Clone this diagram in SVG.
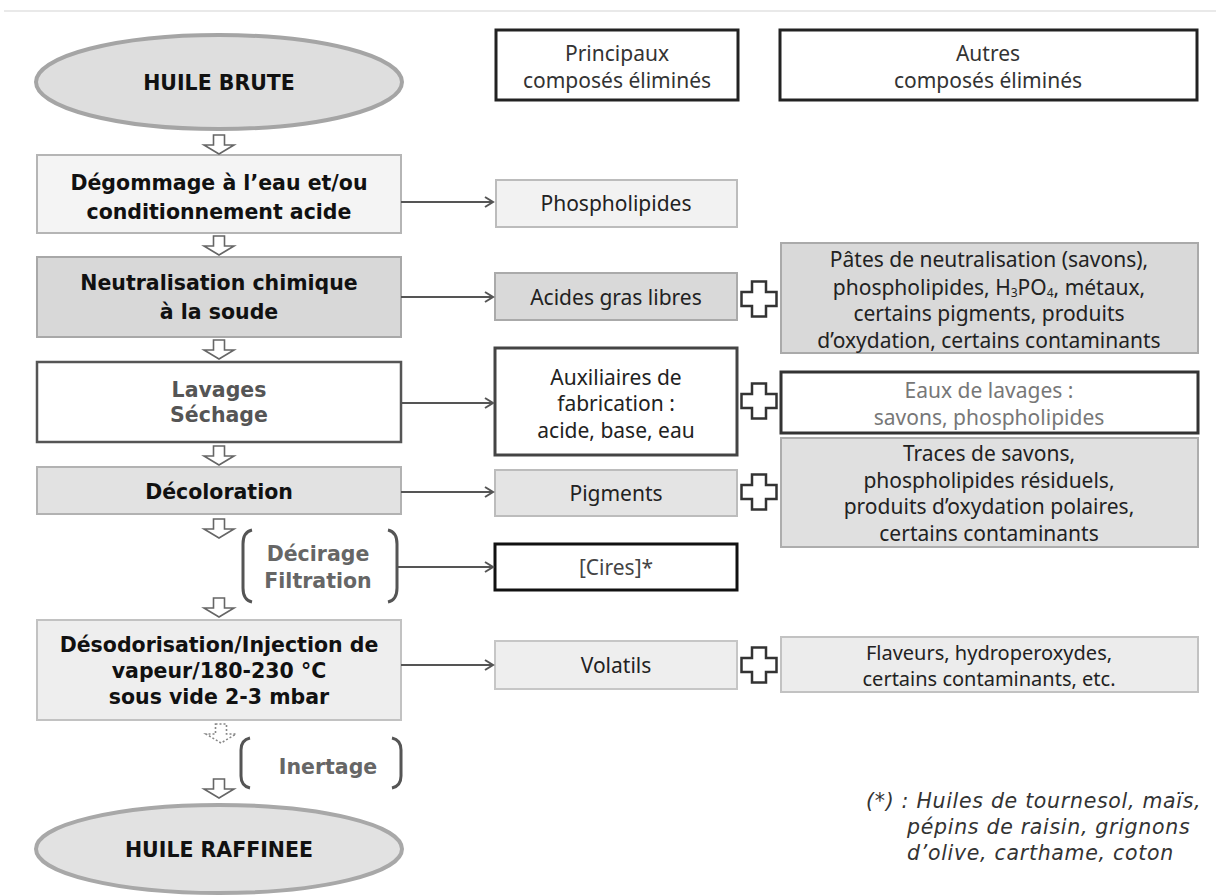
<svg xmlns="http://www.w3.org/2000/svg" width="1216" height="895" viewBox="0 0 1216 895">
<defs>
<style>
text{font-family:"Noto Sans","Open Sans","DejaVu Sans",sans-serif;text-anchor:middle;dominant-baseline:central}
.b{font-family:"DejaVu Sans","Noto Sans",sans-serif;font-weight:bold;font-size:20.5px;fill:#111}
.r{font-size:21px;fill:#222}
.conn{stroke:#555;stroke-width:2;fill:none}
.brk{stroke:#555;stroke-width:3;fill:none}
.ha{fill:#fff;stroke:#666;stroke-width:1.6}
.plus{fill:#fff;stroke:#333;stroke-width:2.5}
.it{font-family:"DejaVu Sans","Noto Sans",sans-serif;font-style:italic;font-size:20.5px;letter-spacing:0.7px;fill:#333;text-anchor:start}
</style>
<marker id="ah" markerWidth="12" markerHeight="12" refX="10" refY="6" orient="auto" markerUnits="userSpaceOnUse">
<path d="M2,1 L10,6 L2,11" fill="none" stroke="#555" stroke-width="2"/>
</marker>
<path id="harrow" d="M-5.5,0 H5.5 V10 H15 L0,19 L-15,10 H-5.5 Z"/>
<path id="pl" d="M-7,-17.5 H7 V-7 H17.5 V7 H7 V17.5 H-7 V7 H-17.5 V-7 H-7 Z"/>
</defs>
<rect width="1216" height="895" fill="#fff"/>
<line x1="4" y1="11" x2="1216" y2="11" stroke="#e2e2e2" stroke-width="1.5"/>

<g id="huile-brute">
<ellipse cx="219" cy="82" rx="183" ry="47" fill="#dedede" stroke="#a5a5a5" stroke-width="4"/>
<text class="b" x="219" y="83">HUILE BRUTE</text>
</g>
<g id="degommage">
<rect x="37" y="155" width="364" height="78" fill="#f4f4f4" stroke="#b5b5b5" stroke-width="2"/>
<text class="b" x="219" y="183">Dégommage à l’eau et/ou</text>
<text class="b" x="219" y="212">conditionnement acide</text>
</g>
<g id="neutralisation">
<rect x="37" y="257" width="364" height="80" fill="#d8d8d8" stroke="#a8a8a8" stroke-width="2"/>
<text class="b" x="219" y="283">Neutralisation chimique</text>
<text class="b" x="219" y="312">à la soude</text>
</g>
<g id="lavages">
<rect x="37" y="362" width="364" height="80" fill="#fff" stroke="#555" stroke-width="2.5"/>
<text class="b" x="219" y="390" style="fill:#555">Lavages</text>
<text class="b" x="219" y="415" style="fill:#555">Séchage</text>
</g>
<g id="decoloration">
<rect x="37" y="467" width="364" height="47" fill="#e2e2e2" stroke="#b2b2b2" stroke-width="2"/>
<text class="b" x="219" y="492">Décoloration</text>
</g>
<g id="decirage">
<path class="brk" d="M252,530 Q243,532 243,544 V588 Q243,600 252,602"/>
<path class="brk" d="M388,530 Q397,532 397,544 V588 Q397,600 388,602"/>
<text class="b" x="318" y="554" style="fill:#666">Décirage</text>
<text class="b" x="318" y="581" style="fill:#666">Filtration</text>
</g>
<g id="desodorisation">
<rect x="37" y="620" width="364" height="100" fill="#eeeeee" stroke="#c2c2c2" stroke-width="2"/>
<text class="b" x="219" y="645">Désodorisation/Injection de</text>
<text class="b" x="219" y="671">vapeur/180-230 °C</text>
<text class="b" x="219" y="697">sous vide 2-3 mbar</text>
</g>
<g id="inertage">
<path class="brk" d="M250,738 Q241,740 241,750 V776 Q241,786 250,788"/>
<path class="brk" d="M392,738 Q401,740 401,750 V776 Q401,786 392,788"/>
<text class="b" x="328" y="767" style="fill:#666">Inertage</text>
</g>
<g id="huile-raffinee">
<ellipse cx="219" cy="849" rx="183" ry="44" fill="#e2e2e2" stroke="#a8a8a8" stroke-width="4"/>
<text class="b" x="219" y="850">HUILE RAFFINEE</text>
</g>

<g id="hdr-principaux">
<rect x="496" y="30" width="242" height="70" fill="#fff" stroke="#222" stroke-width="3"/>
<text class="r" x="617" y="53" style="fill:#333">Principaux</text>
<text class="r" x="617" y="80" style="fill:#333">composés éliminés</text>
</g>
<g id="hdr-autres">
<rect x="780" y="30" width="417" height="70" fill="#fff" stroke="#222" stroke-width="3"/>
<text class="r" x="988" y="53" style="fill:#333">Autres</text>
<text class="r" x="988" y="80" style="fill:#333">composés éliminés</text>
</g>

<g id="phospholipides">
<rect x="496" y="180" width="241" height="47" fill="#f2f2f2" stroke="#bcbcbc" stroke-width="2"/>
<text class="r" x="616" y="203">Phospholipides</text>
</g>
<g id="acides">
<rect x="495" y="273" width="242" height="47" fill="#d9d9d9" stroke="#aaa" stroke-width="2"/>
<text class="r" x="616" y="297">Acides gras libres</text>
</g>
<g id="auxiliaires">
<rect x="495" y="348" width="242" height="107" fill="#fff" stroke="#444" stroke-width="3"/>
<text class="r" x="616" y="377">Auxiliaires de</text>
<text class="r" x="616" y="403">fabrication :</text>
<text class="r" x="616" y="430">acide, base, eau</text>
</g>
<g id="pigments">
<rect x="495" y="470" width="242" height="46" fill="#e4e4e4" stroke="#bcbcbc" stroke-width="2"/>
<text class="r" x="616" y="493">Pigments</text>
</g>
<g id="cires">
<rect x="495" y="544" width="242" height="46" fill="#fff" stroke="#111" stroke-width="3"/>
<text class="r" x="616" y="567" style="fill:#444">[Cires]*</text>
</g>
<g id="volatils">
<rect x="495" y="641" width="242" height="48" fill="#eeeeee" stroke="#c6c6c6" stroke-width="2"/>
<text class="r" x="616" y="665">Volatils</text>
</g>

<g id="pates">
<rect x="781" y="243" width="417" height="110" fill="#d9d9d9" stroke="#aaa" stroke-width="2"/>
<text class="r" x="989" y="259">Pâtes de neutralisation (savons),</text>
<text class="r" x="989" y="287">phospholipides, H<tspan font-size="12" dy="5">3</tspan><tspan dy="-5">PO</tspan><tspan font-size="12" dy="5">4</tspan><tspan dy="-5">, métaux,</tspan></text>
<text class="r" x="989" y="313">certains pigments, produits</text>
<text class="r" x="989" y="340">d’oxydation, certains contaminants</text>
</g>
<g id="eaux">
<rect x="781" y="372" width="417" height="61" fill="#fff" stroke="#333" stroke-width="3"/>
<text class="r" x="989" y="390" style="fill:#777">Eaux de lavages :</text>
<text class="r" x="989" y="417" style="fill:#777">savons, phospholipides</text>
</g>
<g id="traces">
<rect x="781" y="438" width="417" height="109" fill="#e0e0e0" stroke="#adadad" stroke-width="2"/>
<text class="r" x="989" y="453">Traces de savons,</text>
<text class="r" x="989" y="480">phospholipides résiduels,</text>
<text class="r" x="989" y="506">produits d’oxydation polaires,</text>
<text class="r" x="989" y="533">certains contaminants</text>
</g>
<g id="flaveurs">
<rect x="781" y="637" width="417" height="55" fill="#ececec" stroke="#c2c2c2" stroke-width="2"/>
<text class="r" x="989" y="652" style="font-size:20px">Flaveurs, hydroperoxydes,</text>
<text class="r" x="989" y="678" style="font-size:20px">certains contaminants, etc.</text>
</g>

<g id="footnote">
<text class="it" x="866" y="801">(*) : Huiles de tournesol, maïs,</text>
<text class="it" x="907" y="827">pépins de raisin, grignons</text>
<text class="it" x="907" y="853">d’olive, carthame, coton</text>
</g>

<g id="connectors">
<use href="#harrow" class="ha" x="219" y="135"/>
<use href="#harrow" class="ha" x="219" y="236"/>
<use href="#harrow" class="ha" x="219" y="340"/>
<use href="#harrow" class="ha" x="219" y="446"/>
<use href="#harrow" class="ha" x="219" y="519"/>
<use href="#harrow" class="ha" x="219" y="598"/>
<use href="#harrow" x="221" y="724" fill="#fff" stroke="#888" stroke-width="1.6" stroke-dasharray="2,2"/>
<use href="#harrow" class="ha" x="219" y="779"/>
<line class="conn" x1="401" y1="202" x2="493" y2="202" marker-end="url(#ah)"/>
<line class="conn" x1="401" y1="297" x2="493" y2="297" marker-end="url(#ah)"/>
<line class="conn" x1="401" y1="403" x2="493" y2="403" marker-end="url(#ah)"/>
<line class="conn" x1="401" y1="492" x2="493" y2="492" marker-end="url(#ah)"/>
<line class="conn" x1="398" y1="567" x2="493" y2="567" marker-end="url(#ah)"/>
<line class="conn" x1="401" y1="665" x2="493" y2="665" marker-end="url(#ah)"/>
<use href="#pl" class="plus" x="759" y="299"/>
<use href="#pl" class="plus" x="759" y="401"/>
<use href="#pl" class="plus" x="759" y="492"/>
<use href="#pl" class="plus" x="759" y="665"/>
</g>
</svg>
